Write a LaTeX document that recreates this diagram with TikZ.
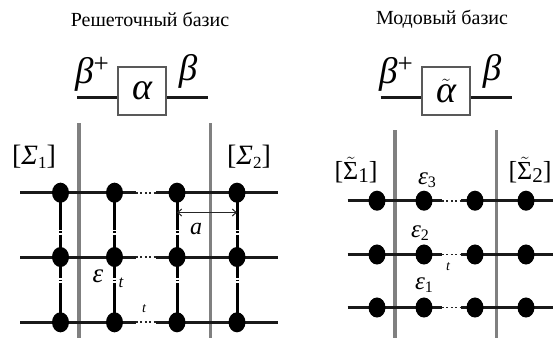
\documentclass[tikz,border=0pt]{standalone}
\usepackage{fontspec}
\setmainfont{Liberation Serif}
\usetikzlibrary{arrows.meta}
\newcommand{\sym}[2]{{\fontsize{#1}{#1}\selectfont\itshape #2}}
\newcommand{\tsig}[1]{\fontsize{26}{26}\selectfont[$\tilde{\hbox{\fontsize{26}{26}\selectfont Σ}}$\raisebox{-3pt}{\fontsize{21}{21}\selectfont #1}]}
\tikzset{
 site/.style={circle,fill=black,inner sep=0pt,minimum width=17pt,yscale=1.18},
 wire/.style={line width=3pt,black!90},
 rung/.style={line width=3pt,black},
 wall/.style={line width=3.6pt,black!50},
 dotrun/.style={line width=1.8pt,black!85,dash pattern=on 2pt off 2.4pt},
 elem/.style={draw=black!65,line width=1.2pt,fill=white,minimum width=48pt,minimum height=48pt,inner sep=0pt},
 lab/.style={inner sep=0pt},
 ttl/.style={inner sep=0pt,font=\fontsize{20}{22}\selectfont},
 rungup/.style={dash pattern=on 37pt off 1.6pt on 1.6pt off 1.6pt on 40pt},
 rungdown/.style={dash pattern=on 21pt off 1.6pt on 1.6pt off 1.6pt on 60pt},
}
\begin{document}
\begin{tikzpicture}[x=1pt,y=-1pt]
\useasboundingbox (0,0) rectangle (553,338);
% titles
\node[ttl] (t1) at (150,19) {Решеточный базис};
\node[ttl] (t2) at (442,19) {Модовый базис};
% walls
\coordinate (wa1) at (79,123); \coordinate (wa2) at (79,338);
\coordinate (wb1) at (210.5,123); \coordinate (wb2) at (210.5,338);
\coordinate (wc1) at (395,130); \coordinate (wc2) at (395,338);
\coordinate (wd1) at (496.5,130); \coordinate (wd2) at (496.5,338);
\draw[wall] (wa1)--(wa2); \draw[wall] (wb1)--(wb2);
\draw[wall] (wc1)--(wc2); \draw[wall] (wd1)--(wd2);
% left lattice
\foreach \r/\y in {1/192.7,2/257,3/322.3}{
  \coordinate (Ls\r) at (20,\y); \coordinate (Le\r) at (278,\y);
  \coordinate (Lg\r) at (136,\y); \coordinate (Lh\r) at (156,\y);
  \foreach \c/\x in {1/60.5,2/114.5,3/177,4/237}{\coordinate (Lc\r\c) at (\x,\y);}
  \draw[wire] (Ls\r)--(Lg\r); \draw[wire] (Lh\r)--(Le\r);
  \draw[dotrun] (Lg\r)--(Lh\r);
}
\foreach \c in {1,2,3,4}{
  \draw[rung,rungup] (Lc1\c)--(Lc2\c);
  \draw[rung,rungdown] (Lc2\c)--(Lc3\c);
  \foreach \r in {1,2,3}{\node[site] (Ln\r\c) at (Lc\r\c) {};}
}
% right lattice
\foreach \r/\y in {1/200.7,2/254.5,3/307.5}{
  \coordinate (Rs\r) at (347.5,\y); \coordinate (Re\r) at (553,\y);
  \coordinate (Rg\r) at (442,\y); \coordinate (Rh\r) at (460.5,\y);
  \draw[wire] (Rs\r)--(Rg\r); \draw[wire] (Rh\r)--(Re\r);
  \draw[dotrun] (Rg\r)--(Rh\r);
  \foreach \c/\x in {1/377,2/424,3/475,4/526}{\node[site] (Rn\r\c) at (\x,\y) {};}
}
% scattering blocks
\node[elem] (A) at (142,91) {\sym{38}{α}};
\coordinate (Ai) at (77,97); \coordinate (Ao) at (208,97);
\draw[wire] (Ai)--(A.west|-Ai); \draw[wire] (A.east|-Ao)--(Ao);
\node[elem] (B) at (446,91) {\fontsize{38}{38}\selectfont\itshape$\tilde{\hbox{\fontsize{38}{38}\selectfont\itshape α}}$};
\coordinate (Bi) at (380.7,97); \coordinate (Bo) at (512,97);
\draw[wire] (Bi)--(B.west|-Bi); \draw[wire] (B.east|-Bo)--(Bo);
% block labels
\node[lab] (b1) at (92,74) {\sym{37}{β}\raisebox{11pt}{\fontsize{27}{27}\selectfont +}};
\node[lab] (b2) at (188,71) {\sym{37}{β}};
\node[lab] (b3) at (396,74) {\sym{37}{β}\raisebox{11pt}{\fontsize{27}{27}\selectfont +}};
\node[lab] (b4) at (492,71) {\sym{37}{β}};
% sigma labels
\node[lab] (s1) at (34,157) {\fontsize{28}{28}\selectfont[\itshape Σ\raisebox{-4pt}{\upshape\fontsize{17}{17}\selectfont 1}\upshape]};
\node[lab] (s2) at (249,157) {\fontsize{28}{28}\selectfont[\itshape Σ\raisebox{-4pt}{\upshape\fontsize{17}{17}\selectfont 2}\upshape]};
\node[lab] (s3) at (356,170) {\tsig{1}};
\node[lab] (s4) at (530,170) {\tsig{2}};
% spacing arrow
\coordinate (ay) at (0,212.5);
\draw[{Straight Barb[length=4pt,width=7pt]}-{Straight Barb[length=4pt,width=7pt]},line width=1pt,black!85] (Ln13.center|-ay) -- (Ln14.center|-ay);
\node[lab] (al) at (196,229) {\sym{24}{a}};
\node[lab] (eps) at (98,276) {\sym{27}{ε}};
\node[lab] (t1l) at (121,283) {\sym{17}{t}};
\node[lab] (t2l) at (144,309) {\sym{14}{t}};
\node[lab] (e3) at (427,180) {\sym{25}{ε}\raisebox{-3pt}{\fontsize{16}{16}\selectfont 3}};
\node[lab] (e2) at (420,233) {\sym{25}{ε}\raisebox{-3pt}{\fontsize{16}{16}\selectfont 2}};
\node[lab] (e1) at (424,285) {\sym{25}{ε}\raisebox{-3pt}{\fontsize{16}{16}\selectfont 1}};
\node[lab] (t3l) at (448,267) {\sym{14}{t}};
\end{tikzpicture}
\end{document}
